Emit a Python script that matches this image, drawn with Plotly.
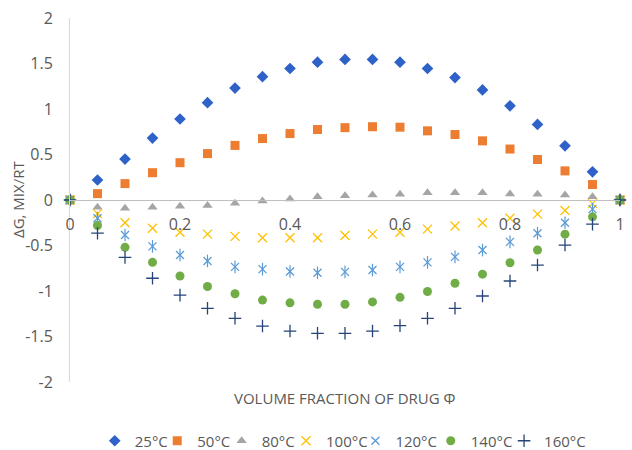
import plotly.graph_objects as go

phi = [0, 0.05, 0.1, 0.15, 0.2, 0.25, 0.3, 0.35, 0.4, 0.45, 0.5,
       0.55, 0.6, 0.65, 0.7, 0.75, 0.8, 0.85, 0.9, 0.95, 1]

g25 = [0, 0.22, 0.45, 0.68, 0.89, 1.07, 1.23, 1.355, 1.445, 1.515, 1.545,
       1.545, 1.515, 1.445, 1.345, 1.21, 1.035, 0.83, 0.595, 0.31, 0]
g50 = [0, 0.07, 0.18, 0.30, 0.41, 0.51, 0.60, 0.675, 0.73, 0.775, 0.795,
       0.805, 0.80, 0.76, 0.72, 0.65, 0.56, 0.445, 0.32, 0.17, 0]
g80 = [0, -0.08, -0.09, -0.08, -0.07, -0.06, -0.035, -0.01, 0.01, 0.035, 0.047,
       0.055, 0.062, 0.08, 0.08, 0.08, 0.066, 0.062, 0.055, 0.036, 0]
g100 = [0, -0.15, -0.25, -0.31, -0.355, -0.375, -0.40, -0.415, -0.415, -0.415, -0.39,
        -0.375, -0.355, -0.32, -0.285, -0.25, -0.20, -0.155, -0.115, -0.04, 0]
g120 = [0, -0.20, -0.385, -0.51, -0.605, -0.67, -0.735, -0.76, -0.785, -0.80, -0.79,
        -0.77, -0.735, -0.685, -0.625, -0.55, -0.46, -0.365, -0.25, -0.10, 0]
g140 = [0, -0.28, -0.52, -0.685, -0.835, -0.95, -1.03, -1.10, -1.13, -1.145, -1.145,
        -1.12, -1.07, -1.005, -0.915, -0.815, -0.69, -0.55, -0.375, -0.185, 0]
g160 = [0, -0.365, -0.63, -0.86, -1.045, -1.19, -1.30, -1.385, -1.44, -1.465, -1.465,
        -1.44, -1.38, -1.30, -1.19, -1.055, -0.89, -0.715, -0.495, -0.265, 0]

names = ["25°C", "50°C", "80°C", "100°C", "120°C", "140°C", "160°C"]
series = [g25, g50, g80, g100, g120, g140, g160]
colors = ["#2F62C8", "#ED7D31", "#A5A5A5", "#FFC000", "#5B9BD5", "#70AD47", "#264478"]
symbols = ["diamond", "square", "triangle-up", "x-thin-open", "x-thin-open",
           "circle", "cross-thin-open"]
sizes = [9, 9, 9, 9, 8, 9, 9]
# left edge of each legend entry, as a fraction of the plot width
legend_x = [0.045, 0.1586, 0.2757, 0.3928, 0.5189, 0.6559, 0.7892]

fig = go.Figure()
legend_layout = {}
font = "Open Sans, Liberation Sans, sans-serif"
for i, (n, s, c, sym, sz) in enumerate(zip(names, series, colors, symbols, sizes)):
    lg = "legend" if i == 0 else f"legend{i + 1}"
    open_sym = sym.endswith("open")
    fig.add_trace(go.Scatter(
        x=phi, y=s, mode="markers", name=n, cliponaxis=False, legend=lg,
        marker=dict(symbol=sym, size=sz, color=c,
                    line=dict(width=1.3 if open_sym else 0, color=c))))
    if n == "120°C":
        fig.add_trace(go.Scatter(
            x=phi, y=s, mode="markers", showlegend=False, cliponaxis=False,
            marker=dict(symbol="line-ns-open", size=9, color=c,
                        line=dict(width=1.2, color=c))))
    legend_layout[lg] = dict(orientation="h", yref="container", y=0.02,
                             yanchor="middle", xanchor="left", x=legend_x[i],
                             font=dict(size=15, color="#595959"), itemwidth=30,
                             bgcolor="rgba(0,0,0,0)")

fig.update_layout(
    width=632, height=450,
    margin=dict(l=70, r=7, t=18, b=68),
    paper_bgcolor="white", plot_bgcolor="white",
    font=dict(family=font, color="#595959", size=15),
    xaxis=dict(range=[0, 1], tickvals=[0, 0.2, 0.4, 0.6, 0.8, 1],
               ticktext=["0", "0.2", "0.4", "0.6", "0.8", "1"],
               anchor="free", position=0.5, showgrid=False, zeroline=False,
               showline=True, linecolor="#BFBFBF", linewidth=1,
               ticks="", ticklabelstandoff=10,
               tickfont=dict(size=16, color="#595959")),
    yaxis=dict(range=[-2, 2], tickvals=[-2, -1.5, -1, -0.5, 0, 0.5, 1, 1.5, 2],
               ticktext=["-2", "-1.5", "-1", "-0.5", "0", "0.5", "1", "1.5", "2"],
               showgrid=False, zeroline=False, showline=True,
               linecolor="#D9D9D9", linewidth=1, ticks="", ticklabelstandoff=13,
               tickfont=dict(size=16, color="#595959")),
    showlegend=True,
    annotations=[
        dict(text="VOLUME FRACTION OF DRUG Φ", xref="paper", yref="paper",
             x=0.5, y=0, yshift=-16, xanchor="center", yanchor="middle",
             showarrow=False, font=dict(size=15, color="#595959")),
        dict(text="ΔG, MIX/RT", xref="paper", yref="paper", x=0, y=0.5,
             xshift=-52, textangle=-90, xanchor="center", yanchor="middle",
             showarrow=False, font=dict(size=15, color="#595959")),
    ],
    **legend_layout,
)

fig.write_html("out.html")
